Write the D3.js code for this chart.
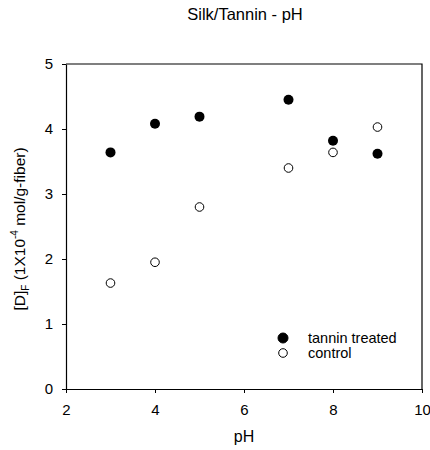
<!DOCTYPE html>
<html>
<head>
<meta charset="utf-8">
<script src="https://cdn.jsdelivr.net/npm/d3@7"></script>
<style>
  body { margin: 0; background: #fff; }
  text { font-family: "Liberation Sans", Arial, sans-serif; }
</style>
</head>
<body>
<svg id="chart" width="430" height="450"></svg>
<script>
// data
var phValues = [3, 4, 5, 7, 8, 9];
var tanninTreated = [3.64, 4.08, 4.19, 4.45, 3.82, 3.62];
var control = [1.63, 1.95, 2.80, 3.40, 3.64, 4.03];
var xTicks = [2, 4, 6, 8, 10];
var yTicks = [0, 1, 2, 3, 4, 5];

var svg = d3.select("#chart"),
  MARGINS = { top: 64, right: 8, bottom: 61, left: 66 },
  WIDTH = 430, HEIGHT = 450;

var xScale = d3.scaleLinear().domain([2, 10]).range([MARGINS.left, WIDTH - MARGINS.right]);
var yScale = d3.scaleLinear().domain([0, 5]).range([HEIGHT - MARGINS.bottom, MARGINS.top]);

// frame (top + right)
svg.append("path")
  .attr("d", "M" + xScale(2) + "," + yScale(5) + "H" + xScale(10) + "V" + yScale(0))
  .attr("fill", "none").attr("stroke", "#000").attr("stroke-width", 1.2);

var xAxis = svg.append("g")
  .attr("transform", "translate(0," + yScale(0) + ")")
  .call(d3.axisBottom(xScale).tickValues(xTicks).tickFormat(d3.format("d"))
    .tickSize(4).tickPadding(11).tickSizeOuter(0));
var yAxis = svg.append("g")
  .attr("transform", "translate(" + xScale(2) + ",0)")
  .call(d3.axisLeft(yScale).tickValues(yTicks).tickFormat(d3.format("d"))
    .tickSize(4).tickPadding(9).tickSizeOuter(0));

[xAxis, yAxis].forEach(function (g) {
  g.select(".domain").attr("stroke", "#000").attr("stroke-width", 1.2);
  g.selectAll(".tick line").attr("stroke", "#000");
  g.selectAll(".tick text").attr("font-size", 15).attr("fill", "#000")
    .style("font-family", "'Liberation Sans', Arial, sans-serif");
});

// title
svg.append("text").attr("x", 245).attr("y", 20).attr("text-anchor", "middle")
  .attr("font-size", 16.5).text("Silk/Tannin - pH");

// x label
svg.append("text").attr("x", xScale(6)).attr("y", 442).attr("text-anchor", "middle")
  .attr("font-size", 16).text("pH");

// y label
var yl = svg.append("text")
  .attr("transform", "translate(25,229) rotate(-90)")
  .attr("text-anchor", "middle").attr("font-size", 15.5);
yl.append("tspan").text("[D]");
yl.append("tspan").attr("font-size", 10).attr("dy", 4).text("F");
yl.append("tspan").attr("dy", -4).text(" (1X10");
yl.append("tspan").attr("font-size", 10).attr("dy", -7).text("-4");
yl.append("tspan").attr("dy", 7).text(" mol/g-fiber)");

// points
svg.append("g").selectAll("circle").data(phValues).join("circle")
  .attr("cx", function (d) { return xScale(d); })
  .attr("cy", function (d, i) { return yScale(control[i]); })
  .attr("r", 4.3).attr("fill", "#fff").attr("stroke", "#000").attr("stroke-width", 1);

svg.append("g").selectAll("circle").data(phValues).join("circle")
  .attr("cx", function (d) { return xScale(d); })
  .attr("cy", function (d, i) { return yScale(tanninTreated[i]); })
  .attr("r", 5).attr("fill", "#000");

// legend
var legend = [
  { label: "tannin treated", fill: "#000", r: 5 },
  { label: "control", fill: "#fff", r: 4.3 }
];
var lg = svg.append("g").selectAll("g").data(legend).join("g")
  .attr("transform", function (d, i) { return "translate(283," + (338 + i * 15) + ")"; });
lg.append("circle").attr("r", function (d) { return d.r; })
  .attr("fill", function (d) { return d.fill; }).attr("stroke", "#000");
lg.append("text").attr("x", 25).attr("y", 5).attr("font-size", 14.5).text(function (d) { return d.label; });
</script>
</body>
</html>
